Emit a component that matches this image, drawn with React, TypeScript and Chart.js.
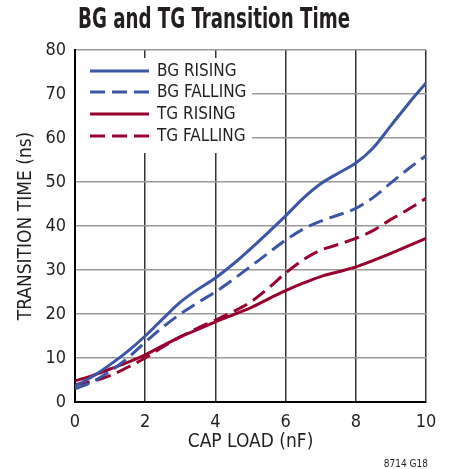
import React, { useEffect, useRef } from "react";
import { Chart, registerables } from "chart.js";
Chart.register(...registerables);

const capLoad = [0, 0.5, 1, 1.5, 2, 2.5, 3, 3.5, 4, 4.5, 5, 5.5, 6, 6.5, 7, 7.5, 8, 8.5, 9, 9.5, 10];
const bgRising = [3.6, 5.8, 8.5, 11.5, 15.0, 18.9, 22.7, 25.6, 28.2, 31.3, 34.8, 38.5, 42.3, 46.3, 49.6, 52.0, 54.3, 57.8, 62.8, 67.8, 72.5];
const bgFalling = [3.0, 4.6, 7.0, 10.0, 13.6, 17.0, 20.0, 22.6, 25.0, 27.8, 30.8, 33.8, 36.8, 39.3, 41.1, 42.5, 44.0, 46.5, 49.8, 53.0, 56.0];
const tgRising = [4.8, 6.0, 7.5, 9.0, 10.7, 12.8, 14.8, 16.5, 18.2, 19.8, 21.4, 23.4, 25.3, 27.0, 28.5, 29.6, 30.7, 32.2, 33.8, 35.5, 37.2];
const tgFalling = [3.9, 4.7, 6.0, 7.9, 10.0, 12.5, 14.8, 16.8, 18.6, 20.5, 22.7, 25.8, 29.3, 32.3, 34.5, 35.8, 37.2, 39.0, 41.5, 43.8, 46.3];
const seriesLabels = ["BG RISING", "BG FALLING", "TG RISING", "TG FALLING"];
const titleText = "BG and TG Transition Time";
const xTitle = "CAP LOAD (nF)";
const yTitle = "TRANSITION TIME (ns)";
const footText = "8714 G18";

const FONT = "'Liberation Sans Narrow', 'DejaVu Sans Condensed', 'Roboto', sans-serif";
const BLUE = "#3b56a5";
const RED = "#98002e";
const TEXT = "#231f20";

export default function App() {
  const ref = useRef<HTMLCanvasElement | null>(null);
  useEffect(() => {
    document.body.style.margin = "0";
    const canvas = ref.current!;
    const mk = (vals: number[]) => capLoad.map((x, i) => ({ x, y: vals[i] }));
    const ds = (label: string, vals: number[], color: string, dashed: boolean) => ({
      label,
      data: mk(vals),
      borderColor: color,
      backgroundColor: color,
      borderWidth: 3,
      borderDash: dashed ? [15, 7] : [],
      pointRadius: 0,
      tension: 0.4,
      cubicInterpolationMode: "monotone" as const,
      fill: false,
    });
    const overlay = {
      id: "overlay",
      afterDraw(chart: any) {
        const ctx = chart.ctx;
        const area = chart.chartArea;
        ctx.save();
        // title
        ctx.fillStyle = TEXT;
        ctx.font = `bold 28px ${FONT}`;
        ctx.textAlign = "left";
        ctx.textBaseline = "alphabetic";
        ctx.fillText(titleText, area.left + 3, 28, 272);
        // legend box
        ctx.fillStyle = "#fff";
        ctx.fillRect(area.left + 1, 58, 176, 95);
        const rows = [71, 92, 114, 136];
        chart.data.datasets.forEach((d: any, i: number) => {
          const y = rows[i];
          ctx.beginPath();
          ctx.strokeStyle = d.borderColor;
          ctx.lineWidth = 3;
          ctx.setLineDash(d.borderDash);
          ctx.moveTo(90, y);
          ctx.lineTo(149, y);
          ctx.stroke();
          ctx.setLineDash([]);
          ctx.fillStyle = TEXT;
          ctx.font = `17px ${FONT}`;
          ctx.textBaseline = "middle";
          ctx.fillText(d.label, 157, y + 1);
        });
        // footnote
        ctx.font = `10px ${FONT}`;
        ctx.textAlign = "right";
        ctx.textBaseline = "alphabetic";
        ctx.fillText(footText, 428, 467);
        ctx.restore();
      },
    };
    const chart = new Chart(canvas, {
      type: "line",
      data: {
        datasets: [
          ds(seriesLabels[0], bgRising, BLUE, false),
          ds(seriesLabels[1], bgFalling, BLUE, true),
          ds(seriesLabels[2], tgRising, RED, false),
          ds(seriesLabels[3], tgFalling, RED, true),
        ],
      },
      options: {
        animation: false,
        responsive: false,
        layout: { padding: { top: 50, right: 27, left: 0, bottom: 0 } },
        plugins: { legend: { display: false }, tooltip: { enabled: false }, title: { display: false } },
        scales: {
          x: {
            type: "linear",
            min: 0,
            max: 10,
            ticks: { stepSize: 2, color: TEXT, font: { family: FONT, size: 18 }, padding: 10, maxRotation: 0 },
            grid: { color: "#333", lineWidth: 1.5, drawTicks: false },
            border: { display: true, color: "#000", width: 2 },
            title: { display: true, text: xTitle, color: TEXT, font: { family: FONT, size: 19 }, padding: { top: 0, bottom: 16 } },
            afterFit: (s: any) => { s.height = 67; },
          },
          y: {
            min: 0,
            max: 80,
            ticks: { stepSize: 10, color: TEXT, font: { family: FONT, size: 18 }, padding: 9 },
            grid: { color: "#999", lineWidth: 1.5, drawTicks: false },
            border: { display: true, color: "#000", width: 2 },
            title: { display: true, text: yTitle, color: TEXT, font: { family: FONT, size: 19 }, padding: { top: 15, bottom: 0 } },
            afterFit: (s: any) => { s.width = 75; },
          },
        },
      },
      plugins: [overlay],
    } as any);
    return () => chart.destroy();
  }, []);
  return <canvas ref={ref} width={453} height={469} style={{ display: "block" }} />;
}
